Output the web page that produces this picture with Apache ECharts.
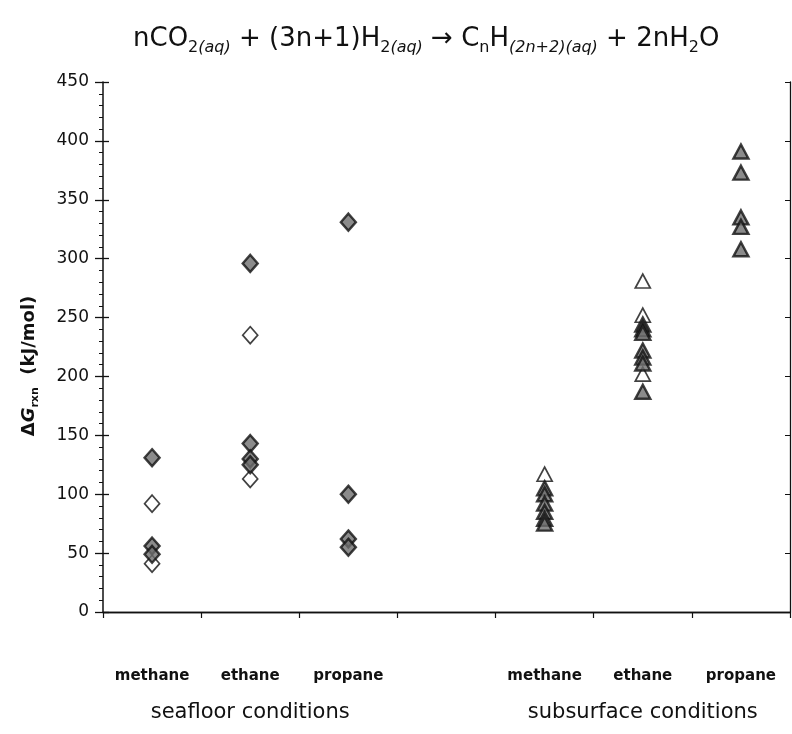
<!DOCTYPE html>
<html>
<head>
<meta charset="utf-8">
<script src="https://cdn.jsdelivr.net/npm/echarts@6/dist/echarts.min.js"></script>
<style>
  html, body { margin: 0; padding: 0; background: #fff; }
  #chart { width: 792px; height: 734px; }
</style>
</head>
<body>
<div id="chart"></div>
<script>
// x categories (index 3 is the empty gap between the two groups)
var categories = ['methane', 'ethane', 'propane', '', 'methane', 'ethane', 'propane'];
var groupLabels = ['', 'seafloor conditions', '', '', '', 'subsurface conditions', ''];
var yTicks = { min: 0, max: 450, step: 50 };

// dGrxn values (kJ/mol)
var seaMethaneFilled = [131, 56, 49];
var seaMethaneOpen = [92, 41];
var seaEthaneFilled = [296, 143, 130, 125];
var seaEthaneOpen = [235, 113];
var seaPropaneFilled = [331, 100, 62, 55];

var subMethaneFilled = [105, 100, 92, 85, 79, 75];
var subMethaneOpen = [117];
var subEthaneFilled = [244, 240, 237, 222, 216, 211, 187];
var subEthaneOpen = [281, 252, 202];
var subPropaneFilled = [391, 373, 335, 327, 308];

function pts(catIdx, vals) {
    return vals.map(function (v) { return [catIdx, v]; });
}

var ink = '#111';
var fontMain = '"DejaVu Sans", sans-serif';

var filledStyle = { color: '#6e6e6e', borderColor: ink, borderWidth: 2.4 };
var openStyle = { color: '#fff', borderColor: ink, borderWidth: 1.7 };

var chart = echarts.init(document.getElementById('chart'));

var yBase = { type: 'value', min: yTicks.min, max: yTicks.max, interval: yTicks.step, splitLine: { show: false } };

chart.setOption({
    animation: false,
    backgroundColor: '#fff',
    title: {
        left: 128,
        top: 17,
        text: '{m|nCO}{s|2}{si|(aq)}{m| + (3n+1)H}{s|2}{si|(aq)}{m| → C}{s|n}{m|H}{si|(2n+2)(aq)}{m| + 2nH}{s|2}{m|O}',
        textStyle: {
            fontWeight: 'normal',
            rich: {
                m: { fontFamily: fontMain, fontSize: 26, fontWeight: 'normal', color: ink, lineHeight: 34 },
                s: { fontFamily: fontMain, fontSize: 16, fontWeight: 'normal', color: ink, lineHeight: 15, verticalAlign: 'bottom' },
                si: { fontFamily: fontMain, fontSize: 16, fontWeight: 'normal', fontStyle: 'italic', color: ink, lineHeight: 15, verticalAlign: 'bottom' }
            }
        }
    },
    grid: { left: 103, right: 2, top: 82, bottom: 122 },
    xAxis: [
        {
            type: 'category',
            data: categories,
            position: 'bottom',
            axisLine: { lineStyle: { color: ink, width: 1.3 } },
            axisTick: { show: true, length: 6, interval: 0, lineStyle: { color: ink, width: 1.2 } },
            axisLabel: { interval: 0, margin: 57, color: ink, fontFamily: fontMain, fontWeight: 'bold', fontSize: 15 }
        },
        {
            type: 'category',
            data: groupLabels,
            position: 'bottom',
            axisLine: { show: false },
            axisTick: { show: false },
            axisLabel: { interval: 0, margin: 90, color: ink, fontFamily: fontMain, fontSize: 21 }
        },
        {
            type: 'category',
            data: categories,
            position: 'top',
            axisLine: { lineStyle: { color: ink, width: 1.3 } },
            axisTick: { show: false },
            axisLabel: { show: false }
        }
    ],
    yAxis: [
        Object.assign({}, yBase, {
            position: 'left',
            name: '{b|Δ}{i|G}{s|rxn}{b|  (kJ/mol)}',
            nameLocation: 'middle',
            nameGap: 62,
            nameTextStyle: {
                padding: [0, 38, 0, 0],
                rich: {
                    b: { fontFamily: fontMain, fontSize: 18, fontWeight: 'bold', color: ink, lineHeight: 24 },
                    i: { fontFamily: fontMain, fontSize: 18, fontWeight: 'bold', fontStyle: 'italic', color: ink, lineHeight: 24 },
                    s: { fontFamily: fontMain, fontSize: 11, fontWeight: 'bold', color: ink, lineHeight: 11, verticalAlign: 'bottom' }
                }
            },
            axisLine: { show: true, lineStyle: { color: ink, width: 1.5 } },
            axisTick: { show: true, length: 8, lineStyle: { color: ink, width: 1.3 } },
            minorTick: { show: true, splitNumber: 5, length: 4, lineStyle: { color: ink, width: 1 } },
            axisLabel: { margin: 14, color: ink, fontFamily: fontMain, fontSize: 17 }
        }),
        Object.assign({}, yBase, {
            position: 'left',
            axisLine: { show: false },
            axisTick: { show: true, inside: true, length: 6, lineStyle: { color: ink, width: 1.3 } },
            axisLabel: { show: false }
        }),
        Object.assign({}, yBase, {
            position: 'right',
            axisLine: { show: true, lineStyle: { color: ink, width: 1.3 } },
            axisTick: { show: true, inside: true, length: 5, lineStyle: { color: ink, width: 1 } },
            axisLabel: { show: false }
        })
    ],
    series: [
        {
            name: 'seafloor open', type: 'scatter', symbol: 'diamond', symbolSize: [15, 17],
            itemStyle: openStyle,
            data: pts(0, seaMethaneOpen).concat(pts(1, seaEthaneOpen))
        },
        {
            name: 'seafloor filled', type: 'scatter', symbol: 'diamond', symbolSize: [15, 17],
            itemStyle: filledStyle,
            data: pts(0, seaMethaneFilled).concat(pts(1, seaEthaneFilled), pts(2, seaPropaneFilled))
        },
        {
            name: 'subsurface open', type: 'scatter', symbol: 'triangle', symbolSize: [15, 14],
            itemStyle: openStyle,
            data: pts(4, subMethaneOpen).concat(pts(5, subEthaneOpen))
        },
        {
            name: 'subsurface filled', type: 'scatter', symbol: 'triangle', symbolSize: [15, 14],
            itemStyle: filledStyle,
            data: pts(4, subMethaneFilled).concat(pts(5, subEthaneFilled), pts(6, subPropaneFilled))
        }
    ]
});
</script>
</body>
</html>
